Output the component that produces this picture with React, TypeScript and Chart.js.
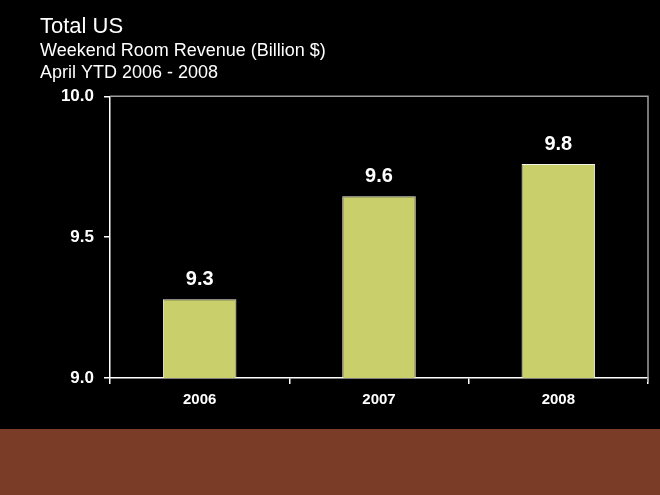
import React, { useEffect, useRef } from 'react';
import { Chart, registerables } from 'chart.js';
Chart.register(...registerables);

const categories = ['2006', '2007', '2008'];
const revenue = [9.28, 9.645, 9.76];
const yMin = 9.0;
const yMax = 10.0;
const yStep = 0.5;
const titleText = 'Total US';
const subtitleLines = ['Weekend Room Revenue (Billion $)', 'April YTD 2006 - 2008'];

const FONT = "'Liberation Sans', Arial, Helvetica, sans-serif";

const backgroundPlugin = {
  id: 'bgPlugin',
  beforeDraw(chart: any) {
    const { ctx, width, height } = chart;
    ctx.save();
    ctx.fillStyle = '#000000';
    ctx.fillRect(0, 0, width, height);
    ctx.fillStyle = '#7a3c27';
    ctx.fillRect(0, 429, width, height - 429);
    ctx.restore();
  },
};

const framePlugin = {
  id: 'framePlugin',
  afterDraw(chart: any) {
    const { ctx, chartArea } = chart;
    ctx.save();
    ctx.strokeStyle = '#a0a0a0';
    ctx.lineWidth = 1.5;
    ctx.beginPath();
    ctx.moveTo(chartArea.left, chartArea.top);
    ctx.lineTo(chartArea.right, chartArea.top);
    ctx.lineTo(chartArea.right, chartArea.bottom + 4);
    ctx.stroke();
    ctx.restore();
  },
};

const valueLabelPlugin = {
  id: 'valueLabelPlugin',
  afterDatasetsDraw(chart: any) {
    const { ctx } = chart;
    const meta = chart.getDatasetMeta(0);
    const data = chart.data.datasets[0].data as number[];
    ctx.save();
    ctx.fillStyle = '#ffffff';
    ctx.font = `bold 20px ${FONT}`;
    ctx.textAlign = 'center';
    ctx.textBaseline = 'alphabetic';
    meta.data.forEach((bar: any, i: number) => {
      ctx.fillText(data[i].toFixed(1), bar.x, bar.y - 14);
    });
    ctx.restore();
  },
};

export default function App() {
  const ref = useRef<HTMLCanvasElement | null>(null);
  useEffect(() => {
    document.body.style.margin = '0';
    document.body.style.background = '#000';
    const canvas = ref.current;
    if (!canvas) return;
    const chart = new Chart(canvas, {
      type: 'bar',
      data: {
        labels: categories,
        datasets: [
          {
            data: revenue,
            backgroundColor: '#c9cf6b',
            borderColor: '#f4f4e8',
            borderWidth: 1,
            barPercentage: 0.41,
            categoryPercentage: 1,
          },
        ],
      },
      options: {
        responsive: false,
        animation: false,
        layout: { padding: { left: 40, right: 12, top: 0, bottom: 0 } },
        plugins: {
          legend: { display: false },
          tooltip: { enabled: false },
          title: {
            display: true,
            text: titleText,
            align: 'start',
            color: '#ffffff',
            font: { family: FONT, size: 22, weight: 'normal' },
            padding: { top: 14, bottom: 0 },
          },
          subtitle: {
            display: true,
            text: subtitleLines,
            align: 'start',
            color: '#ffffff',
            font: { family: FONT, size: 18, weight: 'normal', lineHeight: 1.22 },
            padding: { top: 0, bottom: 12 },
          },
        },
        scales: {
          x: {
            grid: {
              offset: true,
              drawOnChartArea: false,
              drawTicks: true,
              tickLength: 6,
              color: '#ffffff',
              lineWidth: 1.5,
            },
            border: { display: true, color: '#ffffff', width: 1.5 },
            ticks: {
              color: '#ffffff',
              font: { family: FONT, size: 15, weight: 'bold' },
              padding: 7,
            },
            afterFit(scale: any) {
              scale.height = 117;
            },
          },
          y: {
            min: yMin,
            max: yMax,
            grid: {
              drawOnChartArea: false,
              drawTicks: true,
              tickLength: 6,
              color: '#ffffff',
              lineWidth: 1.5,
            },
            border: { display: true, color: '#ffffff', width: 1.5 },
            ticks: {
              stepSize: yStep,
              color: '#ffffff',
              font: { family: FONT, size: 17, weight: 'bold' },
              padding: 10,
              callback: (v: any) => Number(v).toFixed(1),
            },
            afterFit(scale: any) {
              scale.width = 70;
            },
          },
        },
      },
      plugins: [backgroundPlugin, framePlugin, valueLabelPlugin],
    });
    return () => chart.destroy();
  }, []);
  return (
    <div style={{ width: 660, height: 495 }}>
      <canvas ref={ref} width={660} height={495} style={{ display: 'block' }} />
    </div>
  );
}
